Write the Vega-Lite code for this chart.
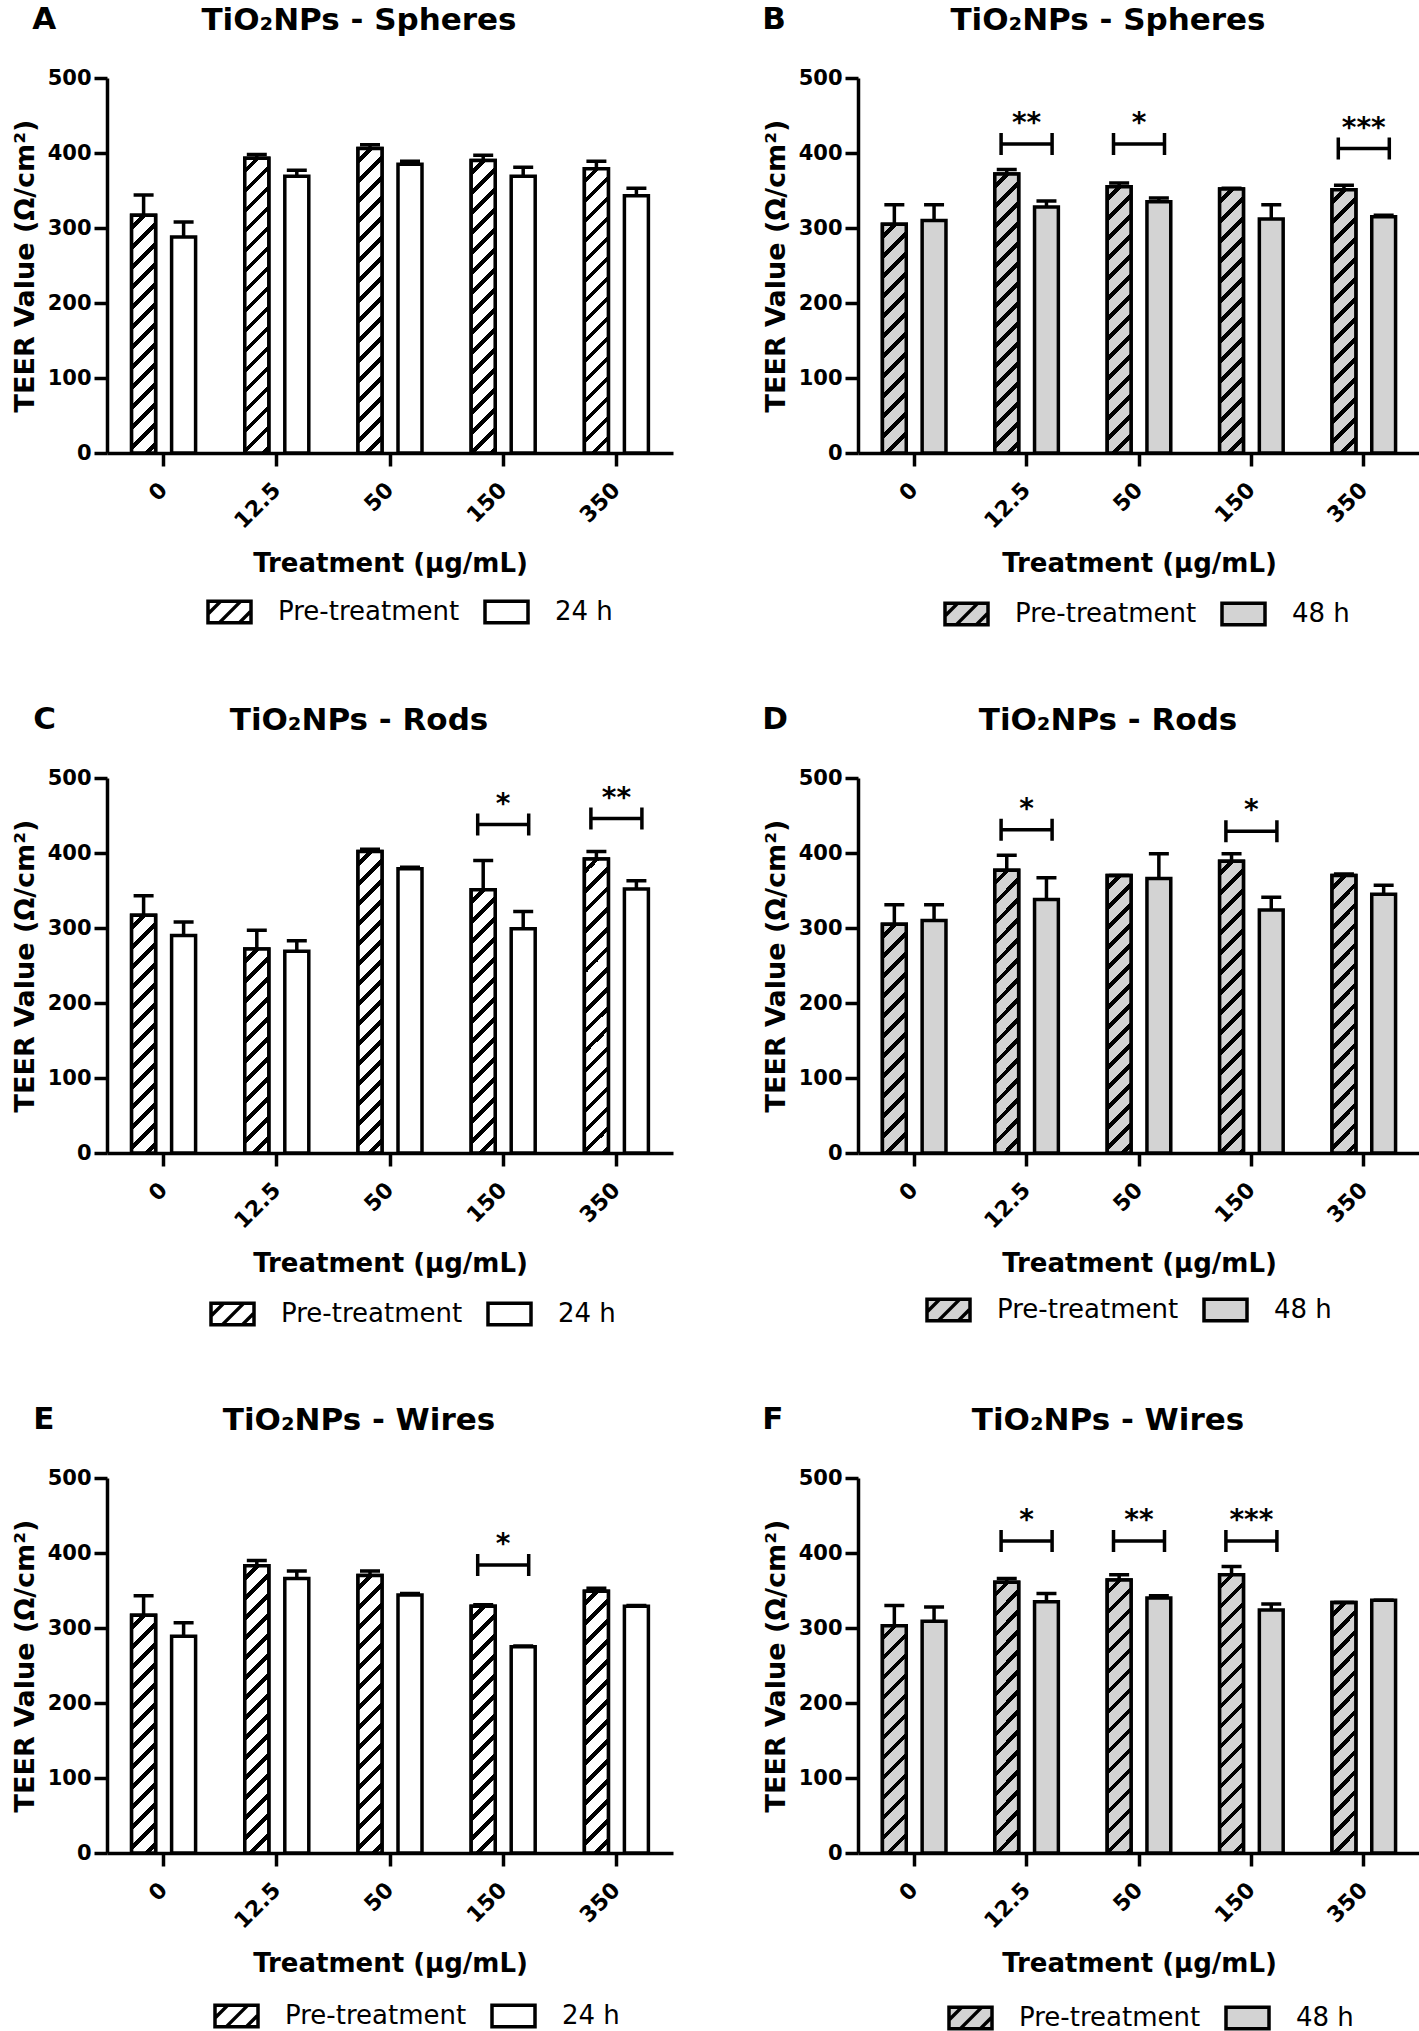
{
"$schema": "https://vega.github.io/schema/vega-lite/v6.json",
"background": "white",
"padding": {"left": 11, "top": 4, "right": 0, "bottom": 0},
"params": [
{"name": "stopsW", "value": [{"offset":0,"color":"#fff"},
{"offset":0.025,"color":"#fff"},{"offset":0.025,"color":"#000"},{"offset":0.039,"color":"#000"},{"offset":0.039,"color":"#fff"},
{"offset":0.075,"color":"#fff"},{"offset":0.075,"color":"#000"},{"offset":0.089,"color":"#000"},{"offset":0.089,"color":"#fff"},
{"offset":0.125,"color":"#fff"},{"offset":0.125,"color":"#000"},{"offset":0.139,"color":"#000"},{"offset":0.139,"color":"#fff"},
{"offset":0.175,"color":"#fff"},{"offset":0.175,"color":"#000"},{"offset":0.189,"color":"#000"},{"offset":0.189,"color":"#fff"},
{"offset":0.225,"color":"#fff"},{"offset":0.225,"color":"#000"},{"offset":0.239,"color":"#000"},{"offset":0.239,"color":"#fff"},
{"offset":0.275,"color":"#fff"},{"offset":0.275,"color":"#000"},{"offset":0.289,"color":"#000"},{"offset":0.289,"color":"#fff"},
{"offset":0.325,"color":"#fff"},{"offset":0.325,"color":"#000"},{"offset":0.339,"color":"#000"},{"offset":0.339,"color":"#fff"},
{"offset":0.375,"color":"#fff"},{"offset":0.375,"color":"#000"},{"offset":0.389,"color":"#000"},{"offset":0.389,"color":"#fff"},
{"offset":0.425,"color":"#fff"},{"offset":0.425,"color":"#000"},{"offset":0.439,"color":"#000"},{"offset":0.439,"color":"#fff"},
{"offset":0.475,"color":"#fff"},{"offset":0.475,"color":"#000"},{"offset":0.489,"color":"#000"},{"offset":0.489,"color":"#fff"},
{"offset":0.525,"color":"#fff"},{"offset":0.525,"color":"#000"},{"offset":0.539,"color":"#000"},{"offset":0.539,"color":"#fff"},
{"offset":0.575,"color":"#fff"},{"offset":0.575,"color":"#000"},{"offset":0.589,"color":"#000"},{"offset":0.589,"color":"#fff"},
{"offset":0.625,"color":"#fff"},{"offset":0.625,"color":"#000"},{"offset":0.639,"color":"#000"},{"offset":0.639,"color":"#fff"},
{"offset":0.675,"color":"#fff"},{"offset":0.675,"color":"#000"},{"offset":0.689,"color":"#000"},{"offset":0.689,"color":"#fff"},
{"offset":0.725,"color":"#fff"},{"offset":0.725,"color":"#000"},{"offset":0.739,"color":"#000"},{"offset":0.739,"color":"#fff"},
{"offset":0.775,"color":"#fff"},{"offset":0.775,"color":"#000"},{"offset":0.789,"color":"#000"},{"offset":0.789,"color":"#fff"},
{"offset":0.825,"color":"#fff"},{"offset":0.825,"color":"#000"},{"offset":0.839,"color":"#000"},{"offset":0.839,"color":"#fff"},
{"offset":0.875,"color":"#fff"},{"offset":0.875,"color":"#000"},{"offset":0.889,"color":"#000"},{"offset":0.889,"color":"#fff"},
{"offset":0.925,"color":"#fff"},{"offset":0.925,"color":"#000"},{"offset":0.939,"color":"#000"},{"offset":0.939,"color":"#fff"},
{"offset":1,"color":"#fff"}]},
{"name": "stopsG", "value": [{"offset":0,"color":"#d3d3d3"},
{"offset":0.025,"color":"#d3d3d3"},{"offset":0.025,"color":"#000"},{"offset":0.039,"color":"#000"},{"offset":0.039,"color":"#d3d3d3"},
{"offset":0.075,"color":"#d3d3d3"},{"offset":0.075,"color":"#000"},{"offset":0.089,"color":"#000"},{"offset":0.089,"color":"#d3d3d3"},
{"offset":0.125,"color":"#d3d3d3"},{"offset":0.125,"color":"#000"},{"offset":0.139,"color":"#000"},{"offset":0.139,"color":"#d3d3d3"},
{"offset":0.175,"color":"#d3d3d3"},{"offset":0.175,"color":"#000"},{"offset":0.189,"color":"#000"},{"offset":0.189,"color":"#d3d3d3"},
{"offset":0.225,"color":"#d3d3d3"},{"offset":0.225,"color":"#000"},{"offset":0.239,"color":"#000"},{"offset":0.239,"color":"#d3d3d3"},
{"offset":0.275,"color":"#d3d3d3"},{"offset":0.275,"color":"#000"},{"offset":0.289,"color":"#000"},{"offset":0.289,"color":"#d3d3d3"},
{"offset":0.325,"color":"#d3d3d3"},{"offset":0.325,"color":"#000"},{"offset":0.339,"color":"#000"},{"offset":0.339,"color":"#d3d3d3"},
{"offset":0.375,"color":"#d3d3d3"},{"offset":0.375,"color":"#000"},{"offset":0.389,"color":"#000"},{"offset":0.389,"color":"#d3d3d3"},
{"offset":0.425,"color":"#d3d3d3"},{"offset":0.425,"color":"#000"},{"offset":0.439,"color":"#000"},{"offset":0.439,"color":"#d3d3d3"},
{"offset":0.475,"color":"#d3d3d3"},{"offset":0.475,"color":"#000"},{"offset":0.489,"color":"#000"},{"offset":0.489,"color":"#d3d3d3"},
{"offset":0.525,"color":"#d3d3d3"},{"offset":0.525,"color":"#000"},{"offset":0.539,"color":"#000"},{"offset":0.539,"color":"#d3d3d3"},
{"offset":0.575,"color":"#d3d3d3"},{"offset":0.575,"color":"#000"},{"offset":0.589,"color":"#000"},{"offset":0.589,"color":"#d3d3d3"},
{"offset":0.625,"color":"#d3d3d3"},{"offset":0.625,"color":"#000"},{"offset":0.639,"color":"#000"},{"offset":0.639,"color":"#d3d3d3"},
{"offset":0.675,"color":"#d3d3d3"},{"offset":0.675,"color":"#000"},{"offset":0.689,"color":"#000"},{"offset":0.689,"color":"#d3d3d3"},
{"offset":0.725,"color":"#d3d3d3"},{"offset":0.725,"color":"#000"},{"offset":0.739,"color":"#000"},{"offset":0.739,"color":"#d3d3d3"},
{"offset":0.775,"color":"#d3d3d3"},{"offset":0.775,"color":"#000"},{"offset":0.789,"color":"#000"},{"offset":0.789,"color":"#d3d3d3"},
{"offset":0.825,"color":"#d3d3d3"},{"offset":0.825,"color":"#000"},{"offset":0.839,"color":"#000"},{"offset":0.839,"color":"#d3d3d3"},
{"offset":0.875,"color":"#d3d3d3"},{"offset":0.875,"color":"#000"},{"offset":0.889,"color":"#000"},{"offset":0.889,"color":"#d3d3d3"},
{"offset":0.925,"color":"#d3d3d3"},{"offset":0.925,"color":"#000"},{"offset":0.939,"color":"#000"},{"offset":0.939,"color":"#d3d3d3"},
{"offset":1,"color":"#d3d3d3"}]}
],
"datasets": {
"bars": [
{"p":"A","conc":"0","g":"Pre-treatment","v":317,"hi":344},
{"p":"A","conc":"0","g":"24 h","v":288,"hi":308},
{"p":"A","conc":"12.5","g":"Pre-treatment","v":393,"hi":398},
{"p":"A","conc":"12.5","g":"24 h","v":369,"hi":377},
{"p":"A","conc":"50","g":"Pre-treatment","v":406,"hi":411},
{"p":"A","conc":"50","g":"24 h","v":385,"hi":389},
{"p":"A","conc":"150","g":"Pre-treatment","v":390,"hi":397},
{"p":"A","conc":"150","g":"24 h","v":369,"hi":381},
{"p":"A","conc":"350","g":"Pre-treatment","v":379,"hi":389},
{"p":"A","conc":"350","g":"24 h","v":343,"hi":353},
{"p":"B","conc":"0","g":"Pre-treatment","v":305,"hi":331},
{"p":"B","conc":"0","g":"48 h","v":310,"hi":331},
{"p":"B","conc":"12.5","g":"Pre-treatment","v":372,"hi":378},
{"p":"B","conc":"12.5","g":"48 h","v":328,"hi":336},
{"p":"B","conc":"50","g":"Pre-treatment","v":355,"hi":360},
{"p":"B","conc":"50","g":"48 h","v":335,"hi":340},
{"p":"B","conc":"150","g":"Pre-treatment","v":352,"hi":353},
{"p":"B","conc":"150","g":"48 h","v":312,"hi":331},
{"p":"B","conc":"350","g":"Pre-treatment","v":351,"hi":357},
{"p":"B","conc":"350","g":"48 h","v":315,"hi":317},
{"p":"C","conc":"0","g":"Pre-treatment","v":317,"hi":343},
{"p":"C","conc":"0","g":"24 h","v":290,"hi":308},
{"p":"C","conc":"12.5","g":"Pre-treatment","v":272,"hi":297},
{"p":"C","conc":"12.5","g":"24 h","v":269,"hi":283},
{"p":"C","conc":"50","g":"Pre-treatment","v":402,"hi":405},
{"p":"C","conc":"50","g":"24 h","v":379,"hi":381},
{"p":"C","conc":"150","g":"Pre-treatment","v":351,"hi":390},
{"p":"C","conc":"150","g":"24 h","v":299,"hi":322},
{"p":"C","conc":"350","g":"Pre-treatment","v":392,"hi":402},
{"p":"C","conc":"350","g":"24 h","v":352,"hi":363},
{"p":"D","conc":"0","g":"Pre-treatment","v":305,"hi":331},
{"p":"D","conc":"0","g":"48 h","v":310,"hi":331},
{"p":"D","conc":"12.5","g":"Pre-treatment","v":377,"hi":397},
{"p":"D","conc":"12.5","g":"48 h","v":338,"hi":367},
{"p":"D","conc":"50","g":"Pre-treatment","v":370,"hi":370},
{"p":"D","conc":"50","g":"48 h","v":366,"hi":399},
{"p":"D","conc":"150","g":"Pre-treatment","v":389,"hi":399},
{"p":"D","conc":"150","g":"48 h","v":324,"hi":341},
{"p":"D","conc":"350","g":"Pre-treatment","v":370,"hi":372},
{"p":"D","conc":"350","g":"48 h","v":345,"hi":357},
{"p":"E","conc":"0","g":"Pre-treatment","v":317,"hi":343},
{"p":"E","conc":"0","g":"24 h","v":289,"hi":307},
{"p":"E","conc":"12.5","g":"Pre-treatment","v":383,"hi":390},
{"p":"E","conc":"12.5","g":"24 h","v":366,"hi":376},
{"p":"E","conc":"50","g":"Pre-treatment","v":370,"hi":376},
{"p":"E","conc":"50","g":"24 h","v":344,"hi":346},
{"p":"E","conc":"150","g":"Pre-treatment","v":329,"hi":331},
{"p":"E","conc":"150","g":"24 h","v":275,"hi":276},
{"p":"E","conc":"350","g":"Pre-treatment","v":349,"hi":353},
{"p":"E","conc":"350","g":"24 h","v":329,"hi":330},
{"p":"F","conc":"0","g":"Pre-treatment","v":303,"hi":330},
{"p":"F","conc":"0","g":"48 h","v":309,"hi":328},
{"p":"F","conc":"12.5","g":"Pre-treatment","v":361,"hi":366},
{"p":"F","conc":"12.5","g":"48 h","v":335,"hi":346},
{"p":"F","conc":"50","g":"Pre-treatment","v":364,"hi":371},
{"p":"F","conc":"50","g":"48 h","v":340,"hi":343},
{"p":"F","conc":"150","g":"Pre-treatment","v":371,"hi":382},
{"p":"F","conc":"150","g":"48 h","v":324,"hi":332},
{"p":"F","conc":"350","g":"Pre-treatment","v":334,"hi":334},
{"p":"F","conc":"350","g":"48 h","v":337,"hi":337}
],
"sig": [
{"p":"B","conc":"12.5","y":412,"s":"**"},
{"p":"B","conc":"50","y":412,"s":"*"},
{"p":"B","conc":"350","y":406,"s":"***"},
{"p":"C","conc":"150","y":438,"s":"*"},
{"p":"C","conc":"350","y":446,"s":"**"},
{"p":"D","conc":"12.5","y":431,"s":"*"},
{"p":"D","conc":"150","y":429,"s":"*"},
{"p":"E","conc":"150","y":384,"s":"*"},
{"p":"F","conc":"12.5","y":416,"s":"*"},
{"p":"F","conc":"50","y":416,"s":"**"},
{"p":"F","conc":"150","y":416,"s":"***"}
]
},
"config": {
"font": "DejaVu Sans",
"view": {"stroke": null},
"axis": {"domainColor": "#000", "domainWidth": 3.5, "tickColor": "#000", "tickWidth": 3.5, "tickSize": 13, "labelFont": "DejaVu Sans", "labelFontWeight": "bold", "labelFontSize": 21, "labelColor": "#000", "titleFont": "DejaVu Sans", "titleFontWeight": "bold", "titleColor": "#000", "grid": false},
"axisX": {"labelAngle": -45, "labelAlign": "right", "labelBaseline": "middle", "labelPadding": 20, "labelFontSize": 22, "titleFontSize": 26, "titlePadding": 18},
"axisY": {"titleFontSize": 27, "titlePadding": 8, "labelPadding": 3},
"legend": {"orient": "none", "direction": "horizontal", "title": null, "symbolSize": 1849, "symbolStrokeWidth": 3.5, "labelFontSize": 26, "labelFont": "DejaVu Sans", "labelFontWeight": "normal", "labelColor": "#000", "labelOffset": 25, "labelLimit": 400, "columnPadding": 18},
"title": {"font": "DejaVu Sans", "fontWeight": "bold", "fontSize": 31, "color": "#000"}
},
"resolve": {"scale": {"fill": "independent", "xOffset": "independent", "shape": "independent"}, "axis": {}, "legend": {"fill": "independent", "shape": "independent"}},
"spacing": 72,
"vconcat": [
{"resolve": {"scale": {"fill": "independent", "xOffset": "independent", "shape": "independent"}, "axis": {}, "legend": {"fill": "independent", "shape": "independent"}}, "spacing": 89, "hconcat": [
{"title": {"text": "A", "anchor": "start", "frame": "bounds", "offset": -31, "dx": 21},
 "resolve": {"scale": {"fill": "independent", "xOffset": "independent", "shape": "independent"}, "axis": {}, "legend": {"fill": "independent", "shape": "independent"}},
 "vconcat": [{
  "title": {"text": "TiO₂NPs - Spheres", "frame": "group", "anchor": "middle", "dx": -31, "offset": 30},
  "width": 566, "height": 375,
  "encoding": {"x": {"field": "conc", "type": "nominal", "sort": ["0","12.5","50","150","350"], "scale": {"paddingInner": 0, "paddingOuter": 0}, "title": "Treatment (μg/mL)"}},
  "layer": [
   {"data": {"name": "bars"}, "transform": [{"filter": "datum.p === 'A'"}],
    "mark": {"type": "point", "filled": false, "fill": "#fff", "stroke": "#000", "strokeWidth": 3.5, "opacity": 1, "yOffset": 40},
    "encoding": {
     "y": {"field": "v", "type": "quantitative", "stack": null, "scale": {"domain": [0, 500], "nice": false}, "title": "TEER Value (Ω/cm²)"},
     "xOffset": {"field": "g", "type": "nominal", "sort": ["Pre-treatment", "24 h"], "scale": {"domain": ["Pre-treatment", "24 h"], "paddingInner": 0.4, "paddingOuter": 0.615}},
     "shape": {"field": "g", "type": "nominal", "scale": {"domain": ["Pre-treatment", "24 h"], "range": ["M-1,-0.5H1V0.5H-1ZM-1,0.1L-0.4,-0.5M-0.47,0.5L0.53,-0.5M0.46,0.5L1,-0.04", "M-1,-0.5H1V0.5H-1Z"]}, "legend": {"legendX": 99, "legendY": 510}}
    }},
   {"data": {"name": "bars"}, "transform": [{"filter": "datum.p === 'A'"}],
    "mark": {"type": "bar", "stroke": "#000", "strokeWidth": 3.5},
    "encoding": {
     "y": {"field": "v", "type": "quantitative", "stack": null, "scale": {"domain": [0, 500], "nice": false}, "axis": {"values": [0,100,200,300,400,500]}, "title": "TEER Value (Ω/cm²)"},
     "xOffset": {"field": "g", "type": "nominal", "sort": ["Pre-treatment", "24 h"], "scale": {"domain": ["Pre-treatment", "24 h"], "paddingInner": 0.4, "paddingOuter": 0.615}},
     "fill": {"field": "g", "type": "nominal", "scale": {"domain": ["Pre-treatment", "24 h"], "range": ["#fff", "#fff"]}, "legend": null}
    }},
   {"data": {"name": "bars"}, "transform": [{"filter": "datum.p === 'A' && datum.g === 'Pre-treatment'"}],
    "mark": {"type": "bar", "stroke": "#000", "strokeWidth": 3.5, "fill": {"expr": "{gradient:'linear',x1:0,y1:0,x2:24*400/(576+pow(0.75*datum.v,2)),y2:0.75*datum.v*400/(576+pow(0.75*datum.v,2)),stops:stopsW}"}},
    "encoding": {
     "y": {"field": "v", "type": "quantitative", "stack": null, "scale": {"domain": [0, 500], "nice": false}, "title": "TEER Value (Ω/cm²)"},
     "xOffset": {"field": "g", "type": "nominal", "sort": ["Pre-treatment", "24 h"], "scale": {"domain": ["Pre-treatment", "24 h"], "paddingInner": 0.4, "paddingOuter": 0.615}}
    }},
   {"data": {"name": "bars"}, "transform": [{"filter": "datum.p === 'A'"}],
    "mark": {"type": "rule", "color": "#000", "strokeWidth": 3.5},
    "encoding": {
     "y": {"field": "v", "type": "quantitative", "stack": null, "scale": {"domain": [0, 500], "nice": false}, "title": "TEER Value (Ω/cm²)"},
     "y2": {"field": "hi"},
     "xOffset": {"field": "g", "type": "nominal", "sort": ["Pre-treatment", "24 h"], "scale": {"domain": ["Pre-treatment", "24 h"], "paddingInner": 0.4, "paddingOuter": 0.615}}
    }},
   {"data": {"name": "bars"}, "transform": [{"filter": "datum.p === 'A'"}],
    "mark": {"type": "tick", "color": "#000", "orient": "horizontal", "size": 20, "thickness": 3.5, "opacity": 1},
    "encoding": {
     "y": {"field": "hi", "type": "quantitative", "stack": null, "scale": {"domain": [0, 500], "nice": false}, "title": "TEER Value (Ω/cm²)"},
     "xOffset": {"field": "g", "type": "nominal", "sort": ["Pre-treatment", "24 h"], "scale": {"domain": ["Pre-treatment", "24 h"], "paddingInner": 0.4, "paddingOuter": 0.615}}
    }}
  ]
 }]
},
{"title": {"text": "B", "anchor": "start", "frame": "bounds", "offset": -31, "dx": 0},
 "resolve": {"scale": {"fill": "independent", "xOffset": "independent", "shape": "independent"}, "axis": {}, "legend": {"fill": "independent", "shape": "independent"}},
 "vconcat": [{
  "title": {"text": "TiO₂NPs - Spheres", "frame": "group", "anchor": "middle", "dx": -31, "offset": 30},
  "width": 562, "height": 375,
  "encoding": {"x": {"field": "conc", "type": "nominal", "sort": ["0","12.5","50","150","350"], "scale": {"paddingInner": 0, "paddingOuter": 0}, "title": "Treatment (μg/mL)"}},
  "layer": [
   {"data": {"name": "bars"}, "transform": [{"filter": "datum.p === 'B'"}],
    "mark": {"type": "point", "filled": false, "fill": "#d3d3d3", "stroke": "#000", "strokeWidth": 3.5, "opacity": 1, "yOffset": 40},
    "encoding": {
     "y": {"field": "v", "type": "quantitative", "stack": null, "scale": {"domain": [0, 500], "nice": false}, "title": "TEER Value (Ω/cm²)"},
     "xOffset": {"field": "g", "type": "nominal", "sort": ["Pre-treatment", "48 h"], "scale": {"domain": ["Pre-treatment", "48 h"], "paddingInner": 0.4, "paddingOuter": 0.615}},
     "shape": {"field": "g", "type": "nominal", "scale": {"domain": ["Pre-treatment", "48 h"], "range": ["M-1,-0.5H1V0.5H-1ZM-1,0.1L-0.4,-0.5M-0.47,0.5L0.53,-0.5M0.46,0.5L1,-0.04", "M-1,-0.5H1V0.5H-1Z"]}, "legend": {"legendX": 85, "legendY": 512}}
    }},
   {"data": {"name": "bars"}, "transform": [{"filter": "datum.p === 'B'"}],
    "mark": {"type": "bar", "stroke": "#000", "strokeWidth": 3.5},
    "encoding": {
     "y": {"field": "v", "type": "quantitative", "stack": null, "scale": {"domain": [0, 500], "nice": false}, "axis": {"values": [0,100,200,300,400,500]}, "title": "TEER Value (Ω/cm²)"},
     "xOffset": {"field": "g", "type": "nominal", "sort": ["Pre-treatment", "48 h"], "scale": {"domain": ["Pre-treatment", "48 h"], "paddingInner": 0.4, "paddingOuter": 0.615}},
     "fill": {"field": "g", "type": "nominal", "scale": {"domain": ["Pre-treatment", "48 h"], "range": ["#d3d3d3", "#d3d3d3"]}, "legend": null}
    }},
   {"data": {"name": "bars"}, "transform": [{"filter": "datum.p === 'B' && datum.g === 'Pre-treatment'"}],
    "mark": {"type": "bar", "stroke": "#000", "strokeWidth": 3.5, "fill": {"expr": "{gradient:'linear',x1:0,y1:0,x2:24*400/(576+pow(0.75*datum.v,2)),y2:0.75*datum.v*400/(576+pow(0.75*datum.v,2)),stops:stopsG}"}},
    "encoding": {
     "y": {"field": "v", "type": "quantitative", "stack": null, "scale": {"domain": [0, 500], "nice": false}, "title": "TEER Value (Ω/cm²)"},
     "xOffset": {"field": "g", "type": "nominal", "sort": ["Pre-treatment", "48 h"], "scale": {"domain": ["Pre-treatment", "48 h"], "paddingInner": 0.4, "paddingOuter": 0.615}}
    }},
   {"data": {"name": "bars"}, "transform": [{"filter": "datum.p === 'B'"}],
    "mark": {"type": "rule", "color": "#000", "strokeWidth": 3.5},
    "encoding": {
     "y": {"field": "v", "type": "quantitative", "stack": null, "scale": {"domain": [0, 500], "nice": false}, "title": "TEER Value (Ω/cm²)"},
     "y2": {"field": "hi"},
     "xOffset": {"field": "g", "type": "nominal", "sort": ["Pre-treatment", "48 h"], "scale": {"domain": ["Pre-treatment", "48 h"], "paddingInner": 0.4, "paddingOuter": 0.615}}
    }},
   {"data": {"name": "bars"}, "transform": [{"filter": "datum.p === 'B'"}],
    "mark": {"type": "tick", "color": "#000", "orient": "horizontal", "size": 20, "thickness": 3.5, "opacity": 1},
    "encoding": {
     "y": {"field": "hi", "type": "quantitative", "stack": null, "scale": {"domain": [0, 500], "nice": false}, "title": "TEER Value (Ω/cm²)"},
     "xOffset": {"field": "g", "type": "nominal", "sort": ["Pre-treatment", "48 h"], "scale": {"domain": ["Pre-treatment", "48 h"], "paddingInner": 0.4, "paddingOuter": 0.615}}
    }},
   {"data": {"name": "sig"}, "transform": [{"filter": "datum.p === 'B'"}],
    "mark": {"type": "point", "shape": "M-1,-0.43V0.43M-1,0H1M1,-0.43V0.43", "size": 2601, "filled": false, "stroke": "#000", "strokeWidth": 3.5, "opacity": 1},
    "encoding": {"y": {"field": "y", "type": "quantitative", "scale": {"domain": [0, 500], "nice": false}, "title": "TEER Value (Ω/cm²)"}}},
   {"data": {"name": "sig"}, "transform": [{"filter": "datum.p === 'B'"}],
    "mark": {"type": "text", "dy": -12, "baseline": "alphabetic", "fontSize": 28, "fontWeight": "bold", "font": "DejaVu Sans", "color": "#000"},
    "encoding": {"y": {"field": "y", "type": "quantitative", "scale": {"domain": [0, 500], "nice": false}, "title": "TEER Value (Ω/cm²)"}, "text": {"field": "s"}}}
  ]
 }]
}
]},
{"resolve": {"scale": {"fill": "independent", "xOffset": "independent", "shape": "independent"}, "axis": {}, "legend": {"fill": "independent", "shape": "independent"}}, "spacing": 89, "hconcat": [
{"title": {"text": "C", "anchor": "start", "frame": "bounds", "offset": -31, "dx": 22},
 "resolve": {"scale": {"fill": "independent", "xOffset": "independent", "shape": "independent"}, "axis": {}, "legend": {"fill": "independent", "shape": "independent"}},
 "vconcat": [{
  "title": {"text": "TiO₂NPs - Rods", "frame": "group", "anchor": "middle", "dx": -31, "offset": 30},
  "width": 566, "height": 375,
  "encoding": {"x": {"field": "conc", "type": "nominal", "sort": ["0","12.5","50","150","350"], "scale": {"paddingInner": 0, "paddingOuter": 0}, "title": "Treatment (μg/mL)"}},
  "layer": [
   {"data": {"name": "bars"}, "transform": [{"filter": "datum.p === 'C'"}],
    "mark": {"type": "point", "filled": false, "fill": "#fff", "stroke": "#000", "strokeWidth": 3.5, "opacity": 1, "yOffset": 40},
    "encoding": {
     "y": {"field": "v", "type": "quantitative", "stack": null, "scale": {"domain": [0, 500], "nice": false}, "title": "TEER Value (Ω/cm²)"},
     "xOffset": {"field": "g", "type": "nominal", "sort": ["Pre-treatment", "24 h"], "scale": {"domain": ["Pre-treatment", "24 h"], "paddingInner": 0.4, "paddingOuter": 0.615}},
     "shape": {"field": "g", "type": "nominal", "scale": {"domain": ["Pre-treatment", "24 h"], "range": ["M-1,-0.5H1V0.5H-1ZM-1,0.1L-0.4,-0.5M-0.47,0.5L0.53,-0.5M0.46,0.5L1,-0.04", "M-1,-0.5H1V0.5H-1Z"]}, "legend": {"legendX": 102, "legendY": 512}}
    }},
   {"data": {"name": "bars"}, "transform": [{"filter": "datum.p === 'C'"}],
    "mark": {"type": "bar", "stroke": "#000", "strokeWidth": 3.5},
    "encoding": {
     "y": {"field": "v", "type": "quantitative", "stack": null, "scale": {"domain": [0, 500], "nice": false}, "axis": {"values": [0,100,200,300,400,500]}, "title": "TEER Value (Ω/cm²)"},
     "xOffset": {"field": "g", "type": "nominal", "sort": ["Pre-treatment", "24 h"], "scale": {"domain": ["Pre-treatment", "24 h"], "paddingInner": 0.4, "paddingOuter": 0.615}},
     "fill": {"field": "g", "type": "nominal", "scale": {"domain": ["Pre-treatment", "24 h"], "range": ["#fff", "#fff"]}, "legend": null}
    }},
   {"data": {"name": "bars"}, "transform": [{"filter": "datum.p === 'C' && datum.g === 'Pre-treatment'"}],
    "mark": {"type": "bar", "stroke": "#000", "strokeWidth": 3.5, "fill": {"expr": "{gradient:'linear',x1:0,y1:0,x2:24*400/(576+pow(0.75*datum.v,2)),y2:0.75*datum.v*400/(576+pow(0.75*datum.v,2)),stops:stopsW}"}},
    "encoding": {
     "y": {"field": "v", "type": "quantitative", "stack": null, "scale": {"domain": [0, 500], "nice": false}, "title": "TEER Value (Ω/cm²)"},
     "xOffset": {"field": "g", "type": "nominal", "sort": ["Pre-treatment", "24 h"], "scale": {"domain": ["Pre-treatment", "24 h"], "paddingInner": 0.4, "paddingOuter": 0.615}}
    }},
   {"data": {"name": "bars"}, "transform": [{"filter": "datum.p === 'C'"}],
    "mark": {"type": "rule", "color": "#000", "strokeWidth": 3.5},
    "encoding": {
     "y": {"field": "v", "type": "quantitative", "stack": null, "scale": {"domain": [0, 500], "nice": false}, "title": "TEER Value (Ω/cm²)"},
     "y2": {"field": "hi"},
     "xOffset": {"field": "g", "type": "nominal", "sort": ["Pre-treatment", "24 h"], "scale": {"domain": ["Pre-treatment", "24 h"], "paddingInner": 0.4, "paddingOuter": 0.615}}
    }},
   {"data": {"name": "bars"}, "transform": [{"filter": "datum.p === 'C'"}],
    "mark": {"type": "tick", "color": "#000", "orient": "horizontal", "size": 20, "thickness": 3.5, "opacity": 1},
    "encoding": {
     "y": {"field": "hi", "type": "quantitative", "stack": null, "scale": {"domain": [0, 500], "nice": false}, "title": "TEER Value (Ω/cm²)"},
     "xOffset": {"field": "g", "type": "nominal", "sort": ["Pre-treatment", "24 h"], "scale": {"domain": ["Pre-treatment", "24 h"], "paddingInner": 0.4, "paddingOuter": 0.615}}
    }},
   {"data": {"name": "sig"}, "transform": [{"filter": "datum.p === 'C'"}],
    "mark": {"type": "point", "shape": "M-1,-0.43V0.43M-1,0H1M1,-0.43V0.43", "size": 2601, "filled": false, "stroke": "#000", "strokeWidth": 3.5, "opacity": 1},
    "encoding": {"y": {"field": "y", "type": "quantitative", "scale": {"domain": [0, 500], "nice": false}, "title": "TEER Value (Ω/cm²)"}}},
   {"data": {"name": "sig"}, "transform": [{"filter": "datum.p === 'C'"}],
    "mark": {"type": "text", "dy": -12, "baseline": "alphabetic", "fontSize": 28, "fontWeight": "bold", "font": "DejaVu Sans", "color": "#000"},
    "encoding": {"y": {"field": "y", "type": "quantitative", "scale": {"domain": [0, 500], "nice": false}, "title": "TEER Value (Ω/cm²)"}, "text": {"field": "s"}}}
  ]
 }]
},
{"title": {"text": "D", "anchor": "start", "frame": "bounds", "offset": -31, "dx": 0},
 "resolve": {"scale": {"fill": "independent", "xOffset": "independent", "shape": "independent"}, "axis": {}, "legend": {"fill": "independent", "shape": "independent"}},
 "vconcat": [{
  "title": {"text": "TiO₂NPs - Rods", "frame": "group", "anchor": "middle", "dx": -31, "offset": 30},
  "width": 562, "height": 375,
  "encoding": {"x": {"field": "conc", "type": "nominal", "sort": ["0","12.5","50","150","350"], "scale": {"paddingInner": 0, "paddingOuter": 0}, "title": "Treatment (μg/mL)"}},
  "layer": [
   {"data": {"name": "bars"}, "transform": [{"filter": "datum.p === 'D'"}],
    "mark": {"type": "point", "filled": false, "fill": "#d3d3d3", "stroke": "#000", "strokeWidth": 3.5, "opacity": 1, "yOffset": 40},
    "encoding": {
     "y": {"field": "v", "type": "quantitative", "stack": null, "scale": {"domain": [0, 500], "nice": false}, "title": "TEER Value (Ω/cm²)"},
     "xOffset": {"field": "g", "type": "nominal", "sort": ["Pre-treatment", "48 h"], "scale": {"domain": ["Pre-treatment", "48 h"], "paddingInner": 0.4, "paddingOuter": 0.615}},
     "shape": {"field": "g", "type": "nominal", "scale": {"domain": ["Pre-treatment", "48 h"], "range": ["M-1,-0.5H1V0.5H-1ZM-1,0.1L-0.4,-0.5M-0.47,0.5L0.53,-0.5M0.46,0.5L1,-0.04", "M-1,-0.5H1V0.5H-1Z"]}, "legend": {"legendX": 67, "legendY": 508}}
    }},
   {"data": {"name": "bars"}, "transform": [{"filter": "datum.p === 'D'"}],
    "mark": {"type": "bar", "stroke": "#000", "strokeWidth": 3.5},
    "encoding": {
     "y": {"field": "v", "type": "quantitative", "stack": null, "scale": {"domain": [0, 500], "nice": false}, "axis": {"values": [0,100,200,300,400,500]}, "title": "TEER Value (Ω/cm²)"},
     "xOffset": {"field": "g", "type": "nominal", "sort": ["Pre-treatment", "48 h"], "scale": {"domain": ["Pre-treatment", "48 h"], "paddingInner": 0.4, "paddingOuter": 0.615}},
     "fill": {"field": "g", "type": "nominal", "scale": {"domain": ["Pre-treatment", "48 h"], "range": ["#d3d3d3", "#d3d3d3"]}, "legend": null}
    }},
   {"data": {"name": "bars"}, "transform": [{"filter": "datum.p === 'D' && datum.g === 'Pre-treatment'"}],
    "mark": {"type": "bar", "stroke": "#000", "strokeWidth": 3.5, "fill": {"expr": "{gradient:'linear',x1:0,y1:0,x2:24*400/(576+pow(0.75*datum.v,2)),y2:0.75*datum.v*400/(576+pow(0.75*datum.v,2)),stops:stopsG}"}},
    "encoding": {
     "y": {"field": "v", "type": "quantitative", "stack": null, "scale": {"domain": [0, 500], "nice": false}, "title": "TEER Value (Ω/cm²)"},
     "xOffset": {"field": "g", "type": "nominal", "sort": ["Pre-treatment", "48 h"], "scale": {"domain": ["Pre-treatment", "48 h"], "paddingInner": 0.4, "paddingOuter": 0.615}}
    }},
   {"data": {"name": "bars"}, "transform": [{"filter": "datum.p === 'D'"}],
    "mark": {"type": "rule", "color": "#000", "strokeWidth": 3.5},
    "encoding": {
     "y": {"field": "v", "type": "quantitative", "stack": null, "scale": {"domain": [0, 500], "nice": false}, "title": "TEER Value (Ω/cm²)"},
     "y2": {"field": "hi"},
     "xOffset": {"field": "g", "type": "nominal", "sort": ["Pre-treatment", "48 h"], "scale": {"domain": ["Pre-treatment", "48 h"], "paddingInner": 0.4, "paddingOuter": 0.615}}
    }},
   {"data": {"name": "bars"}, "transform": [{"filter": "datum.p === 'D'"}],
    "mark": {"type": "tick", "color": "#000", "orient": "horizontal", "size": 20, "thickness": 3.5, "opacity": 1},
    "encoding": {
     "y": {"field": "hi", "type": "quantitative", "stack": null, "scale": {"domain": [0, 500], "nice": false}, "title": "TEER Value (Ω/cm²)"},
     "xOffset": {"field": "g", "type": "nominal", "sort": ["Pre-treatment", "48 h"], "scale": {"domain": ["Pre-treatment", "48 h"], "paddingInner": 0.4, "paddingOuter": 0.615}}
    }},
   {"data": {"name": "sig"}, "transform": [{"filter": "datum.p === 'D'"}],
    "mark": {"type": "point", "shape": "M-1,-0.43V0.43M-1,0H1M1,-0.43V0.43", "size": 2601, "filled": false, "stroke": "#000", "strokeWidth": 3.5, "opacity": 1},
    "encoding": {"y": {"field": "y", "type": "quantitative", "scale": {"domain": [0, 500], "nice": false}, "title": "TEER Value (Ω/cm²)"}}},
   {"data": {"name": "sig"}, "transform": [{"filter": "datum.p === 'D'"}],
    "mark": {"type": "text", "dy": -12, "baseline": "alphabetic", "fontSize": 28, "fontWeight": "bold", "font": "DejaVu Sans", "color": "#000"},
    "encoding": {"y": {"field": "y", "type": "quantitative", "scale": {"domain": [0, 500], "nice": false}, "title": "TEER Value (Ω/cm²)"}, "text": {"field": "s"}}}
  ]
 }]
}
]},
{"resolve": {"scale": {"fill": "independent", "xOffset": "independent", "shape": "independent"}, "axis": {}, "legend": {"fill": "independent", "shape": "independent"}}, "spacing": 89, "hconcat": [
{"title": {"text": "E", "anchor": "start", "frame": "bounds", "offset": -31, "dx": 22},
 "resolve": {"scale": {"fill": "independent", "xOffset": "independent", "shape": "independent"}, "axis": {}, "legend": {"fill": "independent", "shape": "independent"}},
 "vconcat": [{
  "title": {"text": "TiO₂NPs - Wires", "frame": "group", "anchor": "middle", "dx": -31, "offset": 30},
  "width": 566, "height": 375,
  "encoding": {"x": {"field": "conc", "type": "nominal", "sort": ["0","12.5","50","150","350"], "scale": {"paddingInner": 0, "paddingOuter": 0}, "title": "Treatment (μg/mL)"}},
  "layer": [
   {"data": {"name": "bars"}, "transform": [{"filter": "datum.p === 'E'"}],
    "mark": {"type": "point", "filled": false, "fill": "#fff", "stroke": "#000", "strokeWidth": 3.5, "opacity": 1, "yOffset": 40},
    "encoding": {
     "y": {"field": "v", "type": "quantitative", "stack": null, "scale": {"domain": [0, 500], "nice": false}, "title": "TEER Value (Ω/cm²)"},
     "xOffset": {"field": "g", "type": "nominal", "sort": ["Pre-treatment", "24 h"], "scale": {"domain": ["Pre-treatment", "24 h"], "paddingInner": 0.4, "paddingOuter": 0.615}},
     "shape": {"field": "g", "type": "nominal", "scale": {"domain": ["Pre-treatment", "24 h"], "range": ["M-1,-0.5H1V0.5H-1ZM-1,0.1L-0.4,-0.5M-0.47,0.5L0.53,-0.5M0.46,0.5L1,-0.04", "M-1,-0.5H1V0.5H-1Z"]}, "legend": {"legendX": 106, "legendY": 514}}
    }},
   {"data": {"name": "bars"}, "transform": [{"filter": "datum.p === 'E'"}],
    "mark": {"type": "bar", "stroke": "#000", "strokeWidth": 3.5},
    "encoding": {
     "y": {"field": "v", "type": "quantitative", "stack": null, "scale": {"domain": [0, 500], "nice": false}, "axis": {"values": [0,100,200,300,400,500]}, "title": "TEER Value (Ω/cm²)"},
     "xOffset": {"field": "g", "type": "nominal", "sort": ["Pre-treatment", "24 h"], "scale": {"domain": ["Pre-treatment", "24 h"], "paddingInner": 0.4, "paddingOuter": 0.615}},
     "fill": {"field": "g", "type": "nominal", "scale": {"domain": ["Pre-treatment", "24 h"], "range": ["#fff", "#fff"]}, "legend": null}
    }},
   {"data": {"name": "bars"}, "transform": [{"filter": "datum.p === 'E' && datum.g === 'Pre-treatment'"}],
    "mark": {"type": "bar", "stroke": "#000", "strokeWidth": 3.5, "fill": {"expr": "{gradient:'linear',x1:0,y1:0,x2:24*400/(576+pow(0.75*datum.v,2)),y2:0.75*datum.v*400/(576+pow(0.75*datum.v,2)),stops:stopsW}"}},
    "encoding": {
     "y": {"field": "v", "type": "quantitative", "stack": null, "scale": {"domain": [0, 500], "nice": false}, "title": "TEER Value (Ω/cm²)"},
     "xOffset": {"field": "g", "type": "nominal", "sort": ["Pre-treatment", "24 h"], "scale": {"domain": ["Pre-treatment", "24 h"], "paddingInner": 0.4, "paddingOuter": 0.615}}
    }},
   {"data": {"name": "bars"}, "transform": [{"filter": "datum.p === 'E'"}],
    "mark": {"type": "rule", "color": "#000", "strokeWidth": 3.5},
    "encoding": {
     "y": {"field": "v", "type": "quantitative", "stack": null, "scale": {"domain": [0, 500], "nice": false}, "title": "TEER Value (Ω/cm²)"},
     "y2": {"field": "hi"},
     "xOffset": {"field": "g", "type": "nominal", "sort": ["Pre-treatment", "24 h"], "scale": {"domain": ["Pre-treatment", "24 h"], "paddingInner": 0.4, "paddingOuter": 0.615}}
    }},
   {"data": {"name": "bars"}, "transform": [{"filter": "datum.p === 'E'"}],
    "mark": {"type": "tick", "color": "#000", "orient": "horizontal", "size": 20, "thickness": 3.5, "opacity": 1},
    "encoding": {
     "y": {"field": "hi", "type": "quantitative", "stack": null, "scale": {"domain": [0, 500], "nice": false}, "title": "TEER Value (Ω/cm²)"},
     "xOffset": {"field": "g", "type": "nominal", "sort": ["Pre-treatment", "24 h"], "scale": {"domain": ["Pre-treatment", "24 h"], "paddingInner": 0.4, "paddingOuter": 0.615}}
    }},
   {"data": {"name": "sig"}, "transform": [{"filter": "datum.p === 'E'"}],
    "mark": {"type": "point", "shape": "M-1,-0.43V0.43M-1,0H1M1,-0.43V0.43", "size": 2601, "filled": false, "stroke": "#000", "strokeWidth": 3.5, "opacity": 1},
    "encoding": {"y": {"field": "y", "type": "quantitative", "scale": {"domain": [0, 500], "nice": false}, "title": "TEER Value (Ω/cm²)"}}},
   {"data": {"name": "sig"}, "transform": [{"filter": "datum.p === 'E'"}],
    "mark": {"type": "text", "dy": -12, "baseline": "alphabetic", "fontSize": 28, "fontWeight": "bold", "font": "DejaVu Sans", "color": "#000"},
    "encoding": {"y": {"field": "y", "type": "quantitative", "scale": {"domain": [0, 500], "nice": false}, "title": "TEER Value (Ω/cm²)"}, "text": {"field": "s"}}}
  ]
 }]
},
{"title": {"text": "F", "anchor": "start", "frame": "bounds", "offset": -31, "dx": 0},
 "resolve": {"scale": {"fill": "independent", "xOffset": "independent", "shape": "independent"}, "axis": {}, "legend": {"fill": "independent", "shape": "independent"}},
 "vconcat": [{
  "title": {"text": "TiO₂NPs - Wires", "frame": "group", "anchor": "middle", "dx": -31, "offset": 30},
  "width": 562, "height": 375,
  "encoding": {"x": {"field": "conc", "type": "nominal", "sort": ["0","12.5","50","150","350"], "scale": {"paddingInner": 0, "paddingOuter": 0}, "title": "Treatment (μg/mL)"}},
  "layer": [
   {"data": {"name": "bars"}, "transform": [{"filter": "datum.p === 'F'"}],
    "mark": {"type": "point", "filled": false, "fill": "#d3d3d3", "stroke": "#000", "strokeWidth": 3.5, "opacity": 1, "yOffset": 40},
    "encoding": {
     "y": {"field": "v", "type": "quantitative", "stack": null, "scale": {"domain": [0, 500], "nice": false}, "title": "TEER Value (Ω/cm²)"},
     "xOffset": {"field": "g", "type": "nominal", "sort": ["Pre-treatment", "48 h"], "scale": {"domain": ["Pre-treatment", "48 h"], "paddingInner": 0.4, "paddingOuter": 0.615}},
     "shape": {"field": "g", "type": "nominal", "scale": {"domain": ["Pre-treatment", "48 h"], "range": ["M-1,-0.5H1V0.5H-1ZM-1,0.1L-0.4,-0.5M-0.47,0.5L0.53,-0.5M0.46,0.5L1,-0.04", "M-1,-0.5H1V0.5H-1Z"]}, "legend": {"legendX": 89, "legendY": 516}}
    }},
   {"data": {"name": "bars"}, "transform": [{"filter": "datum.p === 'F'"}],
    "mark": {"type": "bar", "stroke": "#000", "strokeWidth": 3.5},
    "encoding": {
     "y": {"field": "v", "type": "quantitative", "stack": null, "scale": {"domain": [0, 500], "nice": false}, "axis": {"values": [0,100,200,300,400,500]}, "title": "TEER Value (Ω/cm²)"},
     "xOffset": {"field": "g", "type": "nominal", "sort": ["Pre-treatment", "48 h"], "scale": {"domain": ["Pre-treatment", "48 h"], "paddingInner": 0.4, "paddingOuter": 0.615}},
     "fill": {"field": "g", "type": "nominal", "scale": {"domain": ["Pre-treatment", "48 h"], "range": ["#d3d3d3", "#d3d3d3"]}, "legend": null}
    }},
   {"data": {"name": "bars"}, "transform": [{"filter": "datum.p === 'F' && datum.g === 'Pre-treatment'"}],
    "mark": {"type": "bar", "stroke": "#000", "strokeWidth": 3.5, "fill": {"expr": "{gradient:'linear',x1:0,y1:0,x2:24*400/(576+pow(0.75*datum.v,2)),y2:0.75*datum.v*400/(576+pow(0.75*datum.v,2)),stops:stopsG}"}},
    "encoding": {
     "y": {"field": "v", "type": "quantitative", "stack": null, "scale": {"domain": [0, 500], "nice": false}, "title": "TEER Value (Ω/cm²)"},
     "xOffset": {"field": "g", "type": "nominal", "sort": ["Pre-treatment", "48 h"], "scale": {"domain": ["Pre-treatment", "48 h"], "paddingInner": 0.4, "paddingOuter": 0.615}}
    }},
   {"data": {"name": "bars"}, "transform": [{"filter": "datum.p === 'F'"}],
    "mark": {"type": "rule", "color": "#000", "strokeWidth": 3.5},
    "encoding": {
     "y": {"field": "v", "type": "quantitative", "stack": null, "scale": {"domain": [0, 500], "nice": false}, "title": "TEER Value (Ω/cm²)"},
     "y2": {"field": "hi"},
     "xOffset": {"field": "g", "type": "nominal", "sort": ["Pre-treatment", "48 h"], "scale": {"domain": ["Pre-treatment", "48 h"], "paddingInner": 0.4, "paddingOuter": 0.615}}
    }},
   {"data": {"name": "bars"}, "transform": [{"filter": "datum.p === 'F'"}],
    "mark": {"type": "tick", "color": "#000", "orient": "horizontal", "size": 20, "thickness": 3.5, "opacity": 1},
    "encoding": {
     "y": {"field": "hi", "type": "quantitative", "stack": null, "scale": {"domain": [0, 500], "nice": false}, "title": "TEER Value (Ω/cm²)"},
     "xOffset": {"field": "g", "type": "nominal", "sort": ["Pre-treatment", "48 h"], "scale": {"domain": ["Pre-treatment", "48 h"], "paddingInner": 0.4, "paddingOuter": 0.615}}
    }},
   {"data": {"name": "sig"}, "transform": [{"filter": "datum.p === 'F'"}],
    "mark": {"type": "point", "shape": "M-1,-0.43V0.43M-1,0H1M1,-0.43V0.43", "size": 2601, "filled": false, "stroke": "#000", "strokeWidth": 3.5, "opacity": 1},
    "encoding": {"y": {"field": "y", "type": "quantitative", "scale": {"domain": [0, 500], "nice": false}, "title": "TEER Value (Ω/cm²)"}}},
   {"data": {"name": "sig"}, "transform": [{"filter": "datum.p === 'F'"}],
    "mark": {"type": "text", "dy": -12, "baseline": "alphabetic", "fontSize": 28, "fontWeight": "bold", "font": "DejaVu Sans", "color": "#000"},
    "encoding": {"y": {"field": "y", "type": "quantitative", "scale": {"domain": [0, 500], "nice": false}, "title": "TEER Value (Ω/cm²)"}, "text": {"field": "s"}}}
  ]
 }]
}
]}
]
}
